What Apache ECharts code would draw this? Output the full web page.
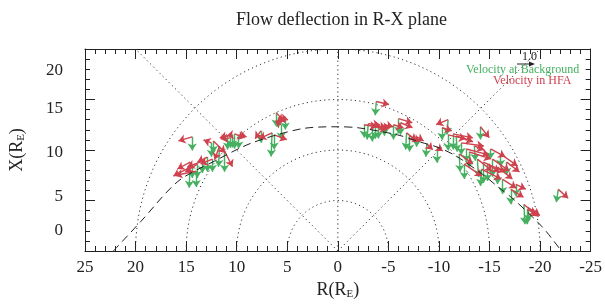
<!DOCTYPE html>
<html>
<head>
<meta charset="utf-8">
<title>Flow deflection in R-X plane</title>
<script src="https://cdn.jsdelivr.net/npm/echarts/dist/echarts.min.js"></script>
<style>
  html, body { margin: 0; padding: 0; background: #fff; }
  #chart { width: 605px; height: 305px; }
</style>
</head>
<body>
<div id="chart"></div>
<script>
  // tick labels
  const xTicks = [25, 20, 15, 10, 5, 0, -5, -10, -15, -20, -25]
  const yTicks = [0, 5, 10, 15, 20]

  // dotted reference rings / spokes (R_E, degrees)
  const ringRadii = [5, 10, 15, 20]
  const spokeAngles = [45, 90, 135]

  // bow shock model, dashed
  const bowR = [22.2, 19.5, 15.8, 12.2, 8.5, 3.6, 0, -2.0, -5.9, -8.1, -9.8, -11.7, -14.3, -15.9, -17.4, -20.2, -22.1]
  const bowX = [0, 2.9, 6.9, 8.9, 10.7, 12.1, 12.3, 12.2, 11.5, 10.8, 10.3, 9.4, 7.6, 6.3, 5.1, 2.4, 0]

  // event positions
  const obsR = [14.4, 14.6, 14.4, 13.9, 13.4, 12.9, 12.4, 12.5, 11.7, 11.2, 12.3, 10.9, 10.4, 10.2, 9.8, 10.6, 6.1, 5.2, 5.6, 6.5, 6.3, 5.9, 7.6, 14.0,
    -3.8, -2.6, -3.0, -3.4, -3.7, -4.0, -4.6, -5.5, -6.0, -6.2, -6.8, -7.1, -7.8, -8.8, -10.9, -10.9, -11.4, -11.7, -12.2, -12.7, -13.0, -13.5, -14.1, -13.8,
    -14.4, -14.8, -15.3, -16.1, -16.7, -14.2, -15.8, -16.3, -17.1, -17.6, -18.4, -18.7, -18.8, -21.8, -15.1, -9.8, -10.3, -12.0, -12.5]
  const obsX = [11.3, 8.8, 8.4, 8.6, 8.9, 9.3, 9.1, 10.7, 10.4, 9.9, 10.9, 11.4, 11.5, 11.6, 11.5, 11.2, 13.7, 13.3, 12.5, 11.7, 11.5, 13.2, 11.9, 7.9,
    14.8, 12.5, 12.6, 12.4, 12.3, 12.4, 12.5, 12.5, 13.1, 12.7, 11.7, 11.4, 11.3, 10.6, 13.0, 11.5, 11.6, 11.4, 10.7, 10.1, 9.8, 10.4, 12.3, 9.1,
    8.8, 8.6, 9.1, 9.6, 8.8, 8.1, 8.3, 7.1, 6.1, 6.6, 4.6, 4.1, 4.3, 6.1, 10.1, 10.3, 12.2, 9.6, 8.6]

  // normalised velocity at background (green)
  const bgVR = [0, 0.06, 0, 0, 0, 0, 0, 0, 0.06, 0, 0, 0, 0, 0, 0, 0, 0, 0, 0, 0.06, 0, 0, 0, 0,
    0.06, 0, 0.06, 0, 0, 0, 0, 0, 0, 0, 0.06, 0, 0, 0.06, 0.06, 0, 0, -0.06, 0, 0, 0, -0.06, 0, -0.06,
    0, 0, 0, 0, 0, 0.06, 0, 0, 0, 0, -0.06, 0, 0, 0.12, 0, 0, 0, -0.06, 0]
  const bgVX = [-0.82, -1.53, -0.71, -0.82, -0.71, -0.88, -0.76, -0.82, -1.24, -1.24, -0.71, -0.82, -0.76, -0.88, -0.82, -0.59, -0.82, -0.76, -0.88, -1.41, -0.88, -0.59, -0.71, -0.94,
    -0.82, -0.76, -0.94, -0.94, -0.71, -0.76, -0.65, -0.88, -0.88, -0.71, -1.0, -0.94, -0.59, -0.76, -0.88, -0.94, -0.94, -0.94, -0.71, -0.76, -0.94, -0.88, -0.76, -1.06,
    -1.24, -1.0, -1.06, -0.76, -0.76, -1.0, -1.0, -0.88, -0.88, -0.71, -1.18, -0.88, -0.82, -0.76, -0.59, -0.94, -0.71, -1.06, -0.88]

  // normalised velocity in HFA (red)
  const hfaVR = [0.82, 0.76, 1.12, 0.71, 0.88, 0.59, 0.71, 0.47, 0.29, -0.47, -0.71, 0.47, 0.35, -0.59, -0.47, 0.59, -0.53, 0.47, 0.35, 0.76, -0.76, -0.59, 0.35, 1.24,
    -0.76, -0.76, -0.71, -1.06, -0.71, -0.47, -0.53, -0.59, -0.82, -0.71, -0.59, -0.59, -0.41, -0.35, 0.71, -1.06, -1.18, -1.0, -1.35, -1.35, -1.29, -0.59, -0.53, -0.88,
    -1.29, -0.71, -1.0, -1.0, -0.76, -1.18, -0.88, -0.82, -0.76, -0.59, -0.88, -0.59, -0.71, -0.59, -0.88, -0.35, -0.59, -0.82, -1.06]
  const hfaVX = [-0.24, -0.41, -0.59, -0.47, -0.35, -0.29, -0.29, 0.18, -0.82, -0.94, -0.71, -0.12, -0.06, -0.24, -0.12, -0.06, -0.59, -0.24, 0.24, -0.35, -0.29, -0.12, -0.47, -0.24,
    -0.18, -0.12, -0.06, -0.12, -0.18, -0.12, -0.12, -0.18, -0.24, -0.29, -0.47, -0.35, -0.24, -0.35, -0.29, -0.24, -0.24, -0.35, -0.18, -0.35, -0.41, -0.24, -0.65, -0.71,
    -0.59, -0.47, -0.71, -0.71, -0.59, -0.59, -0.71, -0.53, -0.47, -0.29, -0.71, -0.24, -0.47, -0.53, -0.47, -0.24, -0.18, -0.59, -0.71]

  const VSCALE = 1.66 // 1.0 velocity -> R_E of arrow length
  const GREEN = '#45b060'
  const RED = '#d0414e'
  const FONT = 'Liberation Serif, Times New Roman, serif'

  function arrows(vr, vx) {
    return obsR.map((r, i) => ({
      coords: [[r, obsX[i]], [r + vr[i] * VSCALE, obsX[i] + vx[i] * VSCALE]]
    }))
  }

  const dotted = { fill: null, stroke: '#333', lineWidth: 1, lineDash: [1.2, 3.2] }

  function renderRing(params, api) {
    let r = api.value(0)
    let pts = []
    for (let a = 0; a <= 180; a += 2) {
      let t = a * Math.PI / 180
      pts.push(api.coord([r * Math.cos(t), r * Math.sin(t)]))
    }
    return { type: 'polyline', shape: { points: pts }, style: dotted }
  }

  function renderSpoke(params, api) {
    let t = api.value(0) * Math.PI / 180
    let p0 = api.coord([0, 0])
    let p1 = api.coord([32 * Math.cos(t), 32 * Math.sin(t)])
    return { type: 'line', shape: { x1: p0[0], y1: p0[1], x2: p1[0], y2: p1[1] }, style: dotted }
  }

  // y labels in the original sit a bit off their ticks
  const yShift = {
    y20: { padding: [44, 0, 0, 0] },
    y15: { padding: [18, 0, 0, 0] },
    y10: { padding: [6, 0, 0, 0] },
    y5: { padding: [0, 0, 8, 0] },
    y0: { padding: [0, 0, 40, 0] }
  }

  const sub = { fontSize: 11, padding: [9, 0, 0, 0] }

  const axisCommon = {
    type: 'value',
    axisLine: { show: true, onZero: false, lineStyle: { color: '#222', width: 1 } },
    axisTick: { show: true, inside: true, length: 10, lineStyle: { color: '#222' } },
    minorTick: { show: true, splitNumber: 5, length: 5, lineStyle: { color: '#222' } },
    splitLine: { show: false }
  }

  const option = {
    animation: false,
    backgroundColor: '#fff',
    title: {
      text: 'Flow deflection in R-X plane',
      left: 231,
      top: 6,
      textStyle: { fontFamily: FONT, fontSize: 18, fontWeight: 'normal', color: '#222' }
    },
    grid: { left: 85, right: 8, top: 49, bottom: 53 },
    xAxis: [
      Object.assign({}, axisCommon, {
        min: -25, max: 25, interval: 5, inverse: true,
        name: 'R(R{sub|E})',
        nameLocation: 'middle',
        nameGap: 29,
        nameTextStyle: { fontFamily: FONT, fontSize: 18, color: '#222', rich: { sub: sub } },
        axisLabel: {
          margin: 8, fontFamily: FONT, fontSize: 17, color: '#222',
          customValues: xTicks
        }
      }),
      Object.assign({}, axisCommon, {
        position: 'top', min: -25, max: 25, interval: 5, inverse: true,
        axisLabel: { show: false }
      })
    ],
    yAxis: [
      Object.assign({}, axisCommon, {
        min: 0, max: 20, interval: 5,
        name: 'X(R{sub|E})',
        nameLocation: 'middle',
        nameRotate: 90,
        nameGap: 58,
        nameTextStyle: { fontFamily: FONT, fontSize: 18, color: '#222', rich: { sub: sub } },
        axisLabel: {
          margin: 22, fontFamily: FONT, fontSize: 17, color: '#222',
          customValues: yTicks,
          formatter: v => '{y' + v + '|' + v + '}',
          rich: yShift
        }
      }),
      Object.assign({}, axisCommon, {
        position: 'right', min: 0, max: 20, interval: 5,
        axisLabel: { show: false }
      })
    ],
    graphic: [
      { type: 'text', left: 522, top: 51, style: { text: '1.0', fontFamily: FONT, fontSize: 12, fill: '#222' } },
      { type: 'line', shape: { x1: 517, y1: 64, x2: 531, y2: 64 }, style: { stroke: '#222', lineWidth: 1 } },
      { type: 'polygon', shape: { points: [[535, 64], [529, 61.5], [529, 66.5]] }, style: { fill: '#222' } },
      { type: 'text', left: 466, top: 64, style: { text: 'Velocity at Background', fontFamily: FONT, fontSize: 12, fill: GREEN } },
      { type: 'text', left: 493, top: 75, style: { text: 'Velocity in HFA', fontFamily: FONT, fontSize: 12, fill: RED } }
    ],
    series: [
      {
        type: 'custom', name: 'rings', clip: true, silent: true,
        renderItem: renderRing,
        data: ringRadii.map(r => [r])
      },
      {
        type: 'custom', name: 'spokes', clip: true, silent: true,
        renderItem: renderSpoke,
        data: spokeAngles.map(a => [a])
      },
      {
        type: 'line', name: 'bow shock', smooth: 0.3, showSymbol: false, silent: true,
        data: bowR.map((r, i) => [r, bowX[i]]),
        lineStyle: { color: '#222', width: 1, type: [8, 5] }
      },
      {
        type: 'lines', name: 'Velocity at Background', coordinateSystem: 'cartesian2d',
        symbol: ['none', 'arrow'], symbolSize: 7,
        lineStyle: { color: GREEN, width: 1.4, opacity: 1, curveness: 0 },
        data: arrows(bgVR, bgVX)
      },
      {
        type: 'lines', name: 'Velocity in HFA', coordinateSystem: 'cartesian2d',
        symbol: ['none', 'arrow'], symbolSize: 7,
        lineStyle: { color: RED, width: 1.4, opacity: 1, curveness: 0 },
        data: arrows(hfaVR, hfaVX)
      }
    ]
  }

  let chart = echarts.init(document.getElementById('chart'))
  chart.setOption(option)
</script>
</body>
</html>
